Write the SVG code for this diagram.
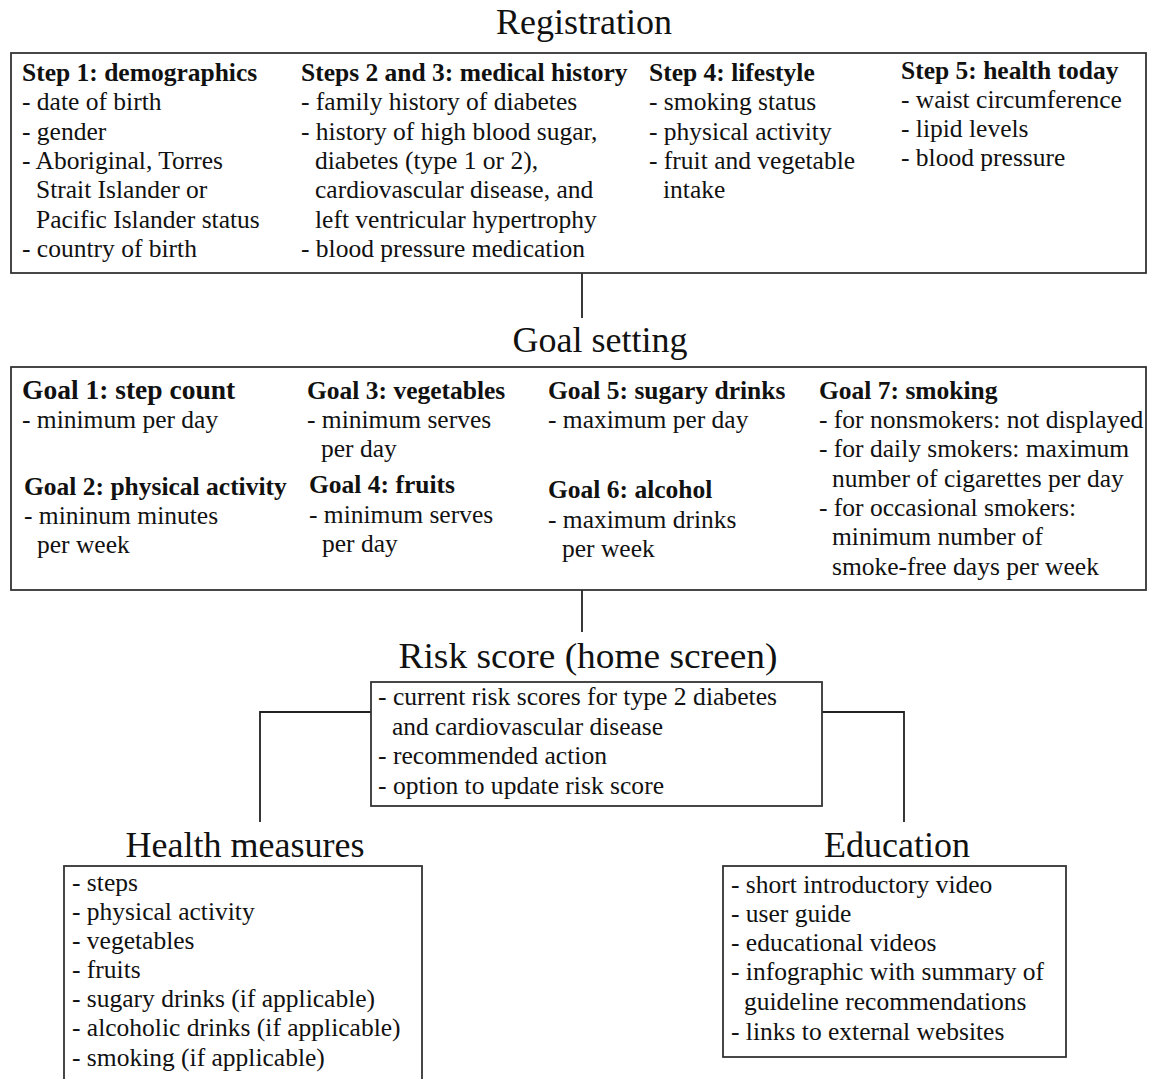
<svg xmlns="http://www.w3.org/2000/svg" width="1153" height="1079" viewBox="0 0 1153 1079">
<style>
text{font-family:"Liberation Serif","Times New Roman",serif;fill:#111;}
.t{font-size:36px;text-anchor:middle;}
.b{font-size:25.5px;}
.h{font-size:25.5px;font-weight:bold;}
.box{fill:#fff;stroke:#333;stroke-width:1.8;}
.ln{fill:none;stroke:#222;stroke-width:1.8;}
</style>
<rect width="1153" height="1079" fill="#fff"/>
<g id="connectors">
<line class="ln" x1="582" y1="273" x2="582" y2="318"/>
<line class="ln" x1="582" y1="590" x2="582" y2="632"/>
<polyline class="ln" points="371,712 260,712 260,822"/>
<polyline class="ln" points="822,712 904,712 904,822"/>
</g>
<g id="registration">
<text class="t" x="584" y="34">Registration</text>
<rect class="box" x="11" y="53" width="1135" height="220"/>
<text class="h" x="22" y="81">Step 1: demographics</text>
<text class="b" x="22" y="110">- date of birth</text>
<text class="b" x="22" y="140">- gender</text>
<text class="b" x="22" y="169">- Aboriginal, Torres</text>
<text class="b" x="36" y="198">Strait Islander or</text>
<text class="b" x="36" y="228">Pacific Islander status</text>
<text class="b" x="22" y="257">- country of birth</text>
<text class="h" x="301" y="81">Steps 2 and 3: medical history</text>
<text class="b" x="301" y="110">- family history of diabetes</text>
<text class="b" x="301" y="140">- history of high blood sugar,</text>
<text class="b" x="315" y="169">diabetes (type 1 or 2),</text>
<text class="b" x="315" y="198">cardiovascular disease, and</text>
<text class="b" x="315" y="228">left ventricular hypertrophy</text>
<text class="b" x="301" y="257">- blood pressure medication</text>
<text class="h" x="649" y="81">Step 4: lifestyle</text>
<text class="b" x="649" y="110">- smoking status</text>
<text class="b" x="649" y="140">- physical activity</text>
<text class="b" x="649" y="169">- fruit and vegetable</text>
<text class="b" x="663" y="198">intake</text>
<text class="h" x="901" y="79">Step 5: health today</text>
<text class="b" x="901" y="108">- waist circumference</text>
<text class="b" x="901" y="137">- lipid levels</text>
<text class="b" x="901" y="166">- blood pressure</text>
</g>
<g id="goal-setting">
<text class="t" x="600" y="352">Goal setting</text>
<rect class="box" x="11" y="367" width="1135" height="223"/>
<text class="h" x="22" y="399" style="font-size:27.5px">Goal 1: step count</text>
<text class="b" x="22" y="428">- minimum per day</text>
<text class="h" x="24" y="495">Goal 2: physical activity</text>
<text class="b" x="24" y="524">- mininum minutes</text>
<text class="b" x="37" y="553">per week</text>
<text class="h" x="307" y="399">Goal 3: vegetables</text>
<text class="b" x="307" y="428">- minimum serves</text>
<text class="b" x="321" y="457">per day</text>
<text class="h" x="309" y="493">Goal 4: fruits</text>
<text class="b" x="309" y="523">- minimum serves</text>
<text class="b" x="322" y="552">per day</text>
<text class="h" x="548" y="399">Goal 5: sugary drinks</text>
<text class="b" x="548" y="428">- maximum per day</text>
<text class="h" x="548" y="498">Goal 6: alcohol</text>
<text class="b" x="548" y="528">- maximum drinks</text>
<text class="b" x="562" y="557">per week</text>
<text class="h" x="819" y="399">Goal 7: smoking</text>
<text class="b" x="819" y="428">- for nonsmokers: not displayed</text>
<text class="b" x="819" y="457">- for daily smokers: maximum</text>
<text class="b" x="832" y="487">number of cigarettes per day</text>
<text class="b" x="819" y="516">- for occasional smokers:</text>
<text class="b" x="832" y="545">minimum number of</text>
<text class="b" x="832" y="575">smoke-free days per week</text>
</g>
<g id="risk-score">
<text class="t" x="588" y="668" textLength="379" lengthAdjust="spacingAndGlyphs">Risk score (home screen)</text>
<rect class="box" x="371" y="682" width="451" height="124"/>
<text class="b" x="378" y="705" textLength="399" lengthAdjust="spacingAndGlyphs">- current risk scores for type 2 diabetes</text>
<text class="b" x="392" y="735" textLength="271" lengthAdjust="spacingAndGlyphs">and cardiovascular disease</text>
<text class="b" x="378" y="764" textLength="229" lengthAdjust="spacingAndGlyphs">- recommended action</text>
<text class="b" x="378" y="794" textLength="286" lengthAdjust="spacingAndGlyphs">- option to update risk score</text>
</g>
<g id="health-measures">
<text class="t" x="245" y="857">Health measures</text>
<rect class="box" x="64" y="866" width="358" height="230"/>
<text class="b" x="72" y="891">- steps</text>
<text class="b" x="72" y="920">- physical activity</text>
<text class="b" x="72" y="949">- vegetables</text>
<text class="b" x="72" y="978">- fruits</text>
<text class="b" x="72" y="1007">- sugary drinks (if applicable)</text>
<text class="b" x="72" y="1036">- alcoholic drinks (if applicable)</text>
<text class="b" x="72" y="1066">- smoking (if applicable)</text>
</g>
<g id="education">
<text class="t" x="897" y="857">Education</text>
<rect class="box" x="723" y="866" width="343" height="191"/>
<text class="b" x="731" y="893">- short introductory video</text>
<text class="b" x="731" y="922">- user guide</text>
<text class="b" x="731" y="951">- educational videos</text>
<text class="b" x="731" y="980">- infographic with summary of</text>
<text class="b" x="744" y="1010">guideline recommendations</text>
<text class="b" x="731" y="1040">- links to external websites</text>
</g>
</svg>
